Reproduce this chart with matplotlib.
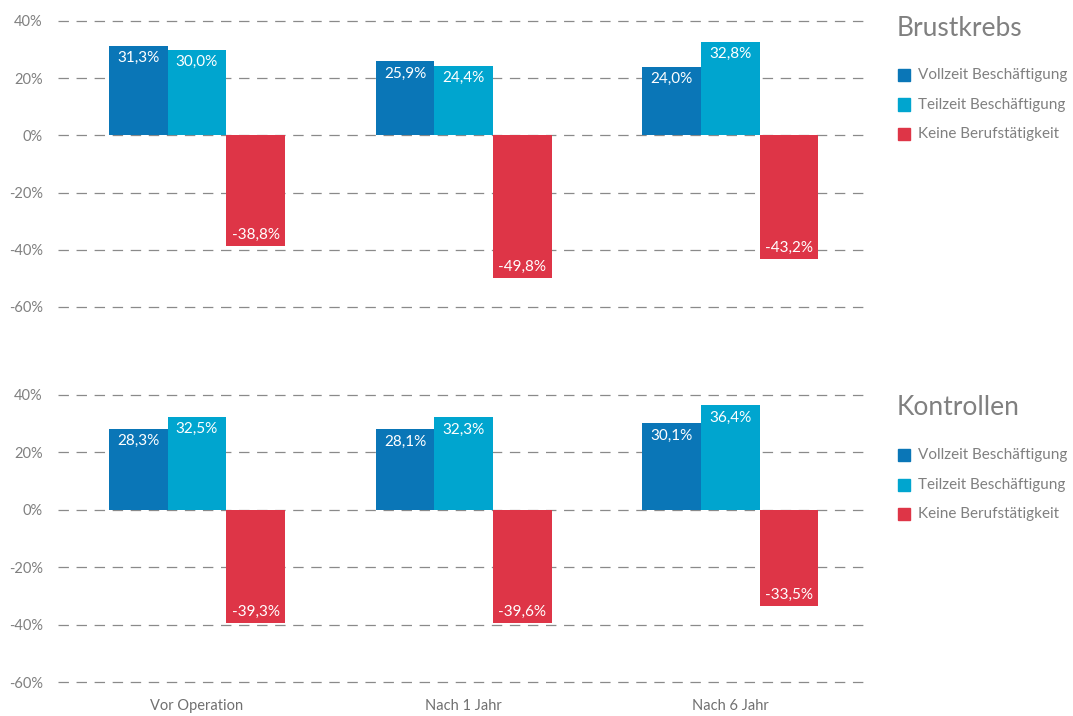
import matplotlib
matplotlib.use("Agg")
import matplotlib.pyplot as plt
from matplotlib.patches import Rectangle
import numpy as np

plt.rcParams["font.family"] = ["Lato", "DejaVu Sans"]
plt.rcParams["lines.scale_dashes"] = False

categories = ["Vor Operation", "Nach 1 Jahr", "Nach 6 Jahr"]
series = ["Vollzeit Beschäftigung", "Teilzeit Beschäftigung", "Keine Berufstätigkeit"]
brustkrebs_vollzeit = [31.3, 25.9, 24.0]
brustkrebs_teilzeit = [30.0, 24.4, 32.8]
brustkrebs_keine = [-38.8, -49.8, -43.2]
kontrollen_vollzeit = [28.3, 28.1, 30.1]
kontrollen_teilzeit = [32.5, 32.3, 36.4]
kontrollen_keine = [-39.3, -39.6, -33.5]
y_ticks = [40, 20, 0, -20, -40, -60]

colors = ["#0a76b7", "#00a5cf", "#de3547"]
gray = "#808080"

W, H = 1073, 716
fig = plt.figure(figsize=(W / 100, H / 100), dpi=100)

# title, data, axes top/bottom (px), title y (px), first legend row y (px)
panels = [
    ("Brustkrebs", [brustkrebs_vollzeit, brustkrebs_teilzeit, brustkrebs_keine], 21, 307, 29, 75),
    ("Kontrollen", [kontrollen_vollzeit, kontrollen_teilzeit, kontrollen_keine], 395, 682, 408, 455),
]

bar_w = 0.22
x = np.arange(len(categories))
left_px, right_px = 58, 865

for p, (title, data, top_px, bot_px, title_y, leg_y) in enumerate(panels):
    ax = fig.add_axes([left_px / W, 1 - bot_px / H, (right_px - left_px) / W, (bot_px - top_px) / H])
    ax.set_xlim(-0.521, 2.505)
    ax.set_ylim(-60, 40)
    for t in y_ticks:
        ax.axhline(t, color="#8a8a8a", lw=0.9, ls=(0, (7.5, 5.5)), zorder=0, clip_on=False)
    for i, vals in enumerate(data):
        xs = x + (i - 1) * bar_w
        ax.bar(xs, vals, width=bar_w, color=colors[i], zorder=2)
        for xi, v in zip(xs, vals):
            txt = f"{v:.1f}".replace(".", ",") + "%"
            off = -9 if v > 0 else 8
            ax.annotate(txt, (xi, v), xytext=(0, off), textcoords="offset points",
                        ha="center", va="center", color="white", fontsize=11, zorder=3)
    for s in ax.spines.values():
        s.set_visible(False)
    ax.set_yticks(y_ticks)
    ax.set_yticklabels([f"{t}%" for t in y_ticks])
    ax.tick_params(axis="y", length=0, pad=11, labelcolor=gray, labelsize=10.5)
    if p == 1:
        ax.set_xticks(x)
        ax.set_xticklabels(categories)
        ax.tick_params(axis="x", length=0, pad=12, labelcolor="#707070", labelsize=10.5)
    else:
        ax.set_xticks([])

    # title and legend to the right of each panel
    fig.text(897 / W, 1 - title_y / H, title, fontsize=19, color=gray,
             ha="left", va="center")
    for i, name in enumerate(series):
        cy = leg_y + i * 29.5
        fig.patches.append(Rectangle((898 / W, 1 - (cy + 6) / H), 12 / W, 12 / H,
                                     color=colors[i], transform=fig.transFigure))
        fig.text(918 / W, 1 - cy / H, name, fontsize=11, color=gray,
                 ha="left", va="center")

fig.savefig("out.png", dpi=100)
